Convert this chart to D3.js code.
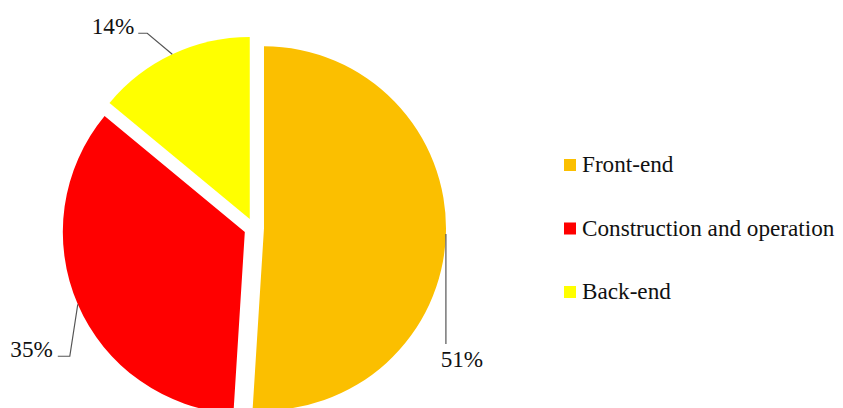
<!DOCTYPE html>
<html>
<head>
<meta charset="utf-8">
<script src="https://cdn.jsdelivr.net/npm/d3@7"></script>
</head>
<body style="margin:0">
<svg id="chart" width="843" height="408"></svg>
<script>
// ---- data ----
const categories = ["Front-end", "Construction and operation", "Back-end"];
const shares = [51, 35, 14];
const labels = ["51%", "35%", "14%"];
const colors = ["#FBBF00", "#FF0000", "#FFFF00"];

// ---- layout ----
const cx = 254, cy = 228, R = 182, explode = 10;
const fontSize = 23.2;
const FONT = '"Liberation Serif", Tinos, "Times New Roman", serif';

const svg = d3.select("#chart");
const pie = d3.pie().sort(null).value(d => d)(shares);
const arc = d3.arc().innerRadius(0).outerRadius(R);

const g = svg.append("g").attr("transform", `translate(${cx},${cy})`);

function dir(a){ return [Math.sin(a), -Math.cos(a)]; }
function styleText(sel){
  return sel.attr("font-family", FONT)
    .style("font-family", FONT, "important")
    .style("font-size", fontSize + "px", "important")
    .attr("fill", "#111");
}

pie.forEach((p, i) => {
  const mid = (p.startAngle + p.endAngle) / 2;
  const [ux, uy] = dir(mid);
  g.append("path")
    .attr("d", arc(p))
    .attr("fill", colors[i])
    .attr("transform", `translate(${ux*explode},${uy*explode})`);
});

// leader lines + labels
const leaderLayout = [
  {type: "down", len: 110, textDy: 23},
  {type: "left", ex: -8, ey: 52, run: 12, gap: 5},
  {type: "left", ex: -25, ey: -21, run: 9, gap: 4}
];
pie.forEach((p, i) => {
  const mid = (p.startAngle + p.endAngle) / 2;
  const [ux, uy] = dir(mid);
  const sx = ux*(R+explode), sy = uy*(R+explode);
  const L = leaderLayout[i];
  if (L.type === "down") {
    g.append("path")
      .attr("d", `M${sx},${sy}V${sy+L.len}`)
      .attr("stroke", "#555").attr("stroke-width", 1.2).attr("fill", "none");
    styleText(g.append("text").attr("x", sx+16).attr("y", sy+L.len+L.textDy)
      .attr("text-anchor", "middle")).text(labels[i]);
  } else {
    const ex = sx + L.ex, ey = sy + L.ey;
    g.append("path")
      .attr("d", `M${sx},${sy}L${ex},${ey}H${ex-L.run}`)
      .attr("stroke", "#555").attr("stroke-width", 1.2).attr("fill", "none");
    styleText(g.append("text").attr("x", ex-L.run-L.gap).attr("y", ey+1)
      .attr("text-anchor", "end")).text(labels[i]);
  }
});

// legend
const legY = d3.scalePoint().domain(categories).range([172, 299]);
const leg = svg.append("g");
categories.forEach((c, i) => {
  const y = legY(c);
  leg.append("rect").attr("x", 564).attr("y", y-13).attr("width", 12).attr("height", 12)
    .attr("fill", colors[i]);
  styleText(leg.append("text").attr("x", 582).attr("y", y)).text(c);
});
</script>
</body>
</html>
